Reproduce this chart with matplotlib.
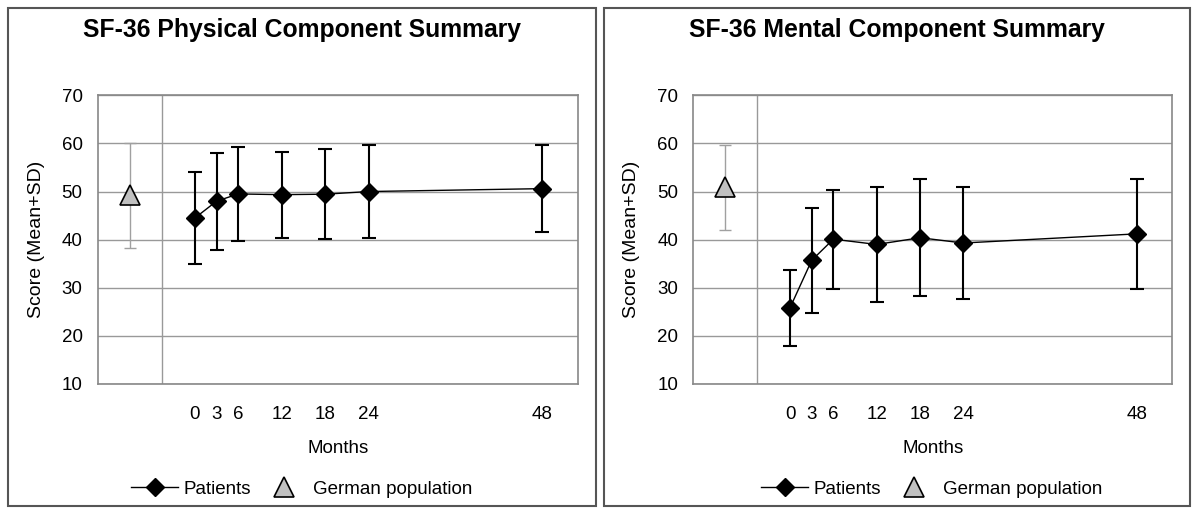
import matplotlib
matplotlib.use("Agg")
import matplotlib.pyplot as plt
from matplotlib.lines import Line2D
from matplotlib.patches import Rectangle

plt.rcParams['font.family'] = ['Liberation Sans', 'DejaVu Sans']

months = [0, 3, 6, 12, 18, 24, 48]

# SF-36 physical component summary (mean, SD)
pcs_mean = [44.5, 48.0, 49.5, 49.35, 49.45, 50.0, 50.6]
pcs_sd = [9.6, 10.1, 9.7, 8.95, 9.4, 9.6, 9.1]
german_pcs_mean = 49.2
german_pcs_sd = 10.9

# SF-36 mental component summary (mean, SD)
mcs_mean = [25.85, 35.7, 40.1, 39.0, 40.4, 39.3, 41.2]
mcs_sd = [7.85, 10.9, 10.3, 12.0, 12.2, 11.7, 11.4]
german_mcs_mean = 50.9
german_mcs_sd = 8.8

titles = ["SF-36 Physical Component Summary", "SF-36 Mental Component Summary"]

GERMAN_X = -9.0
SEP_X = -4.6
W, H = 1200, 516


def draw_panel(fig, box, plot, title, mean, sd, g_mean, g_sd, legend_x):
    # outer frame of the panel
    bx0, by0, bx1, by1 = box
    fig.patches.append(Rectangle((bx0 / W, 1 - by1 / H), (bx1 - bx0) / W, (by1 - by0) / H,
                                 transform=fig.transFigure, fill=False,
                                 edgecolor='#555555', lw=1.5))
    fig.text((bx0 + bx1) / 2 / W, 1 - 30 / H, title, ha='center', va='center',
             fontsize=17.8, fontweight='bold')

    px0, py0, px1, py1 = plot
    ax = fig.add_axes([px0 / W, 1 - py1 / H, (px1 - px0) / W, (py1 - py0) / H])

    ax.errorbar([GERMAN_X], [g_mean], yerr=[g_sd], fmt='none', ecolor='#a0a0a0',
                elinewidth=1, capsize=4.5, capthick=1, zorder=3)
    ax.plot([GERMAN_X], [g_mean], ls='none', marker='^', ms=14, mfc='#c0c0c0',
            mec='black', mew=1.2, zorder=4)

    ax.errorbar(months, mean, yerr=sd, fmt='none', ecolor='black', elinewidth=1.5,
                capsize=4.8, capthick=1.5, zorder=3)
    ax.plot(months, mean, color='black', lw=1, marker='D', ms=9.5, zorder=4)

    ax.axvline(SEP_X, color='#999999', lw=1, zorder=1)

    ax.set_xlim(-13.4, 52.9)
    ax.set_ylim(10, 70)
    ax.set_yticks(range(10, 71, 10))
    ax.set_xticks(months)
    ax.yaxis.grid(True, color='#999999', lw=1)
    ax.set_axisbelow(True)
    ax.tick_params(length=0, labelsize=13.5)
    ax.tick_params(axis='y', pad=11)
    ax.tick_params(axis='x', pad=16)
    for s in ax.spines.values():
        s.set_color('#888888')
        s.set_linewidth(1.2)

    ax.set_xlabel("Months", fontsize=13.5, labelpad=12)
    ax.set_ylabel("Score (Mean+SD)", fontsize=14, labelpad=12)

    handles = [
        Line2D([], [], color='black', lw=1, marker='D', ms=9.5),
        Line2D([], [], ls='none', marker='^', ms=14, mfc='#c0c0c0', mec='black', mew=1.2),
    ]
    fig.legend(handles, ["Patients", "German population"], loc='center',
               bbox_to_anchor=(legend_x / W, 1 - 489 / H), ncol=2, frameon=False,
               fontsize=13.5, handlelength=2.5, handletextpad=0.3, columnspacing=0.5)
    return ax


fig = plt.figure(figsize=(12, 5.16), dpi=100)
draw_panel(fig, (8, 8, 596, 506), (97.9, 95.3, 577.7, 384), titles[0],
           pcs_mean, pcs_sd, german_pcs_mean, german_pcs_sd, 302)
draw_panel(fig, (604, 8, 1190, 506), (693.3, 95.3, 1172, 384), titles[1],
           mcs_mean, mcs_sd, german_mcs_mean, german_mcs_sd, 932)

fig.savefig("out.png", dpi=100)
